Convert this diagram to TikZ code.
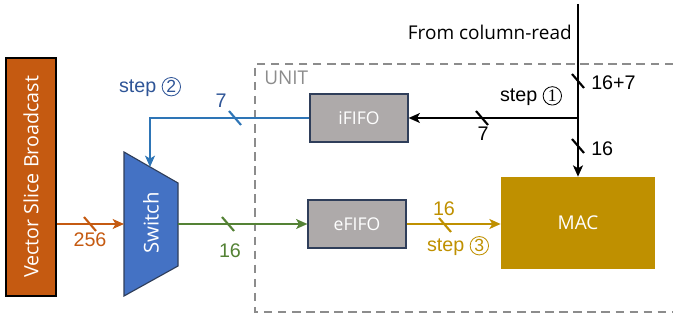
\documentclass[tikz,border=0pt]{standalone}
\usepackage{fontspec}
\setmainfont{Liberation Sans}
\newfontfamily\boxfont{Open Sans}
\newfontfamily\digserif{Liberation Serif}
\usetikzlibrary{arrows.meta}

\definecolor{vsbOrange}{HTML}{C55A11}
\definecolor{swBlue}{HTML}{4472C4}
\definecolor{ctlBlue}{HTML}{2E75B6}
\definecolor{stepBlue}{HTML}{2F5597}
\definecolor{datGreen}{HTML}{548235}
\definecolor{macGold}{HTML}{BF9000}
\definecolor{fifoGray}{HTML}{AEAAAA}
\definecolor{fifoEdge}{HTML}{2F3E5A}
\definecolor{unitGray}{HTML}{8C8C8C}

\tikzset{
  bus/.style={line width=1.5pt},
  busarrow/.style={bus,-{Stealth[length=8pt,width=7pt,inset=2pt]}},
  slash/.style={line width=1.5pt},
  fifo/.style={draw=fifoEdge,line width=0.8pt,fill=fifoGray,minimum width=2.45cm,
    minimum height=1.2cm,text=white,font=\boxfont\fontsize{12.5}{14}\selectfont},
  lbl/.style={font=\fontsize{14}{16}\selectfont,inner sep=0pt}
}
% circled step number: colour, digit font, digit
\newcommand{\stepno}[3]{\tikz[baseline=(n.base)]\node[circle,draw=#1,text=#1,line width=0.6pt,
  inner sep=0pt,minimum size=0.46cm,font=#2\fontsize{12.5}{13}\selectfont] (n) {#3};}

\begin{document}
\begin{tikzpicture}[x=0.025cm,y=-0.025cm]
\useasboundingbox (0,0) rectangle (673,320);

% unit frame
\draw[unitGray,dashed,line width=1.2pt,dash pattern=on 6pt off 4pt]
  (673,64) -- (255,64) -- (255,312) -- (673,312);
\node[text=unitGray,font=\boxfont\fontsize{13.5}{15}\selectfont,anchor=west,inner sep=0pt]
  (unit) at (264,78) {UNIT};

% blocks
\node[draw=black,line width=0.8pt,fill=vsbOrange,minimum width=5.95cm,minimum height=1.25cm,
  rotate=90,text=white,font=\boxfont\fontsize{14}{16}\selectfont] (vsb) at (31,177) {Vector Slice Broadcast};

\coordinate (sw-tl) at (124,152);
\coordinate (sw-tr) at (178,183);
\coordinate (sw-br) at (178,266);
\coordinate (sw-bl) at (124,296);
\draw[fill=swBlue,draw=fifoEdge,line width=0.8pt] (sw-tl) -- (sw-tr) -- (sw-br) -- (sw-bl) -- cycle;
\node[rotate=90,text=white,font=\boxfont\fontsize{14.5}{16}\selectfont] (sw) at (151,223) {Switch};
\coordinate (sw-in) at (124,224);
\coordinate (sw-out) at (178,224);
\coordinate (sw-top) at (150,167);

\node[fifo] (ififo) at (359,118) {iFIFO};
\node[fifo] (efifo) at (357,224) {eFIFO};
\node[fill=macGold,minimum width=3.85cm,minimum height=2.3cm,text=white,
  font=\boxfont\fontsize{13.5}{15}\selectfont] (mac) at (578,223) {MAC};

% column-read input
\coordinate (colread) at (578,4);
\coordinate (split) at (578,118);
\coordinate (ctlturn) at (150,118);
\node[font=\boxfont\fontsize{13.5}{15}\selectfont,anchor=east,inner sep=0pt] (fromcr) at (572,32) {From column-read};
\draw[bus] (colread) -- (split);
\draw[busarrow] (split) -- (ififo.east);
\draw[busarrow] (split) -- (mac.north);
\draw[slash] (578,81) ++(-6,-7) -- ++(12,14);
\draw[slash] (578,146) ++(-6,-7) -- ++(12,14);
\draw[slash] (482,118) ++(-6,-7) -- ++(12,14);
\node[lbl,anchor=west] (w23) at (591,83) {16+7};
\node[lbl,anchor=west] (w16a) at (591,149) {16};
\node[lbl] (w7a) at (483,134) {7};
\node[lbl] (step1) at (531,96) {step \stepno{black}{\digserif}{1}};

% control path to switch
\draw[busarrow,ctlBlue] (ififo.west) -- (ctlturn) -- (sw-top);
\draw[slash,ctlBlue] (235,118) ++(-6,-7) -- ++(12,14);
\node[lbl,text=stepBlue] (w7b) at (221,101) {7};
\node[lbl,text=stepBlue] (step2) at (150,87) {step \stepno{stepBlue}{}{2}};

% data path
\draw[busarrow,vsbOrange] (vsb.south |- sw-in) -- (sw-in);
\draw[slash,vsbOrange] (90,224) ++(-6,-7) -- ++(12,14);
\node[lbl,text=vsbOrange] (w256) at (90,240) {256};

\draw[busarrow,datGreen] (sw-out) -- (efifo.west);
\draw[slash,datGreen] (228,224) ++(-6,-7) -- ++(12,14);
\node[lbl,text=datGreen] (w16b) at (230,251) {16};

\draw[busarrow,macGold] (efifo.east) -- (mac.west |- efifo.east);
\draw[slash,macGold] (445,225) ++(-6,-7) -- ++(12,14);
\node[lbl,text=macGold] (w16c) at (444,209) {16};
\node[lbl,text=macGold] (step3) at (458,246) {step \stepno{macGold}{}{3}};
\end{tikzpicture}
\end{document}
